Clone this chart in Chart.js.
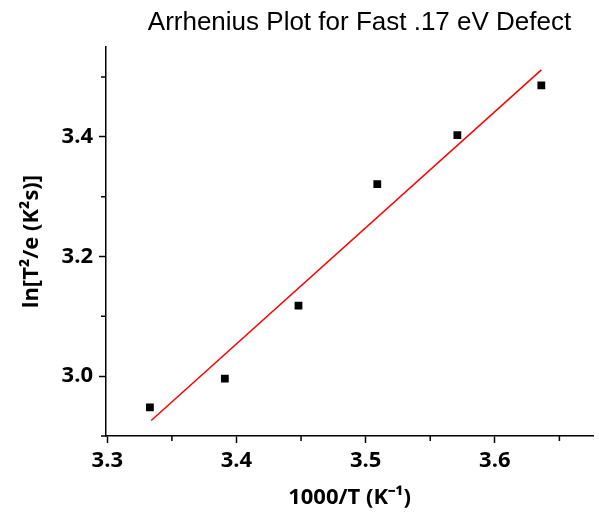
<!DOCTYPE html>
<html>
<head>
<meta charset="utf-8">
<script src="https://cdn.jsdelivr.net/npm/chart.js@4"></script>
<style>
  html, body { margin: 0; padding: 0; background: #fff; }
</style>
</head>
<body>
<canvas id="arrheniusChart" width="599" height="513"></canvas>
<script>
// data points: 1000/T vs ln(T^2/e)
var invTemp = [3.333, 3.391, 3.448, 3.509, 3.571, 3.636];
var lnTe = [2.948, 2.996, 3.118, 3.321, 3.403, 3.486];

// linear fit end points
var fitX = [3.334, 3.636];
var fitY = [2.926, 3.512];

// axis ticks
var xTicks = [3.3, 3.4, 3.5, 3.6];
var xMinorTicks = [3.35, 3.45, 3.55, 3.65];
var yTicks = [3.0, 3.2, 3.4];
var yMinorTicks = [2.9, 3.1, 3.3, 3.5];

var tickFont = { family: "'Open Sans', sans-serif", size: 22, weight: 'bold' };
var axisTitleFont = { family: "'Open Sans', sans-serif", size: 22, weight: 'bold' };

// small outward ticks between the labelled ones
var minorTicks = {
    id: 'minorTicks',
    afterDraw: function(chart) {
        var ctx = chart.ctx;
        var xs = chart.scales.x, ys = chart.scales.y;
        ctx.save();
        ctx.strokeStyle = '#000';
        ctx.lineWidth = 1.5;
        ctx.beginPath();
        xMinorTicks.forEach(function(v) {
            var px = xs.getPixelForValue(v);
            ctx.moveTo(px, xs.top);
            ctx.lineTo(px, xs.top + 5);
        });
        yMinorTicks.forEach(function(v) {
            var py = ys.getPixelForValue(v);
            ctx.moveTo(ys.right, py);
            ctx.lineTo(ys.right - 5, py);
        });
        ctx.stroke();
        ctx.restore();
    }
};

// title sits right of the canvas centre in the original
var titleShift = {
    id: 'titleShift',
    afterLayout: function(chart) {
        if (chart.titleBlock) {
            chart.titleBlock.left += 63;
            chart.titleBlock.right += 63;
        }
    }
};

var ctx = document.getElementById('arrheniusChart').getContext('2d');
var myChart = new Chart(ctx, {
    type: 'scatter',
    data: {
        datasets: [{
            label: 'data',
            data: invTemp.map(function(x, i) { return { x: x, y: lnTe[i] }; }),
            pointStyle: 'rect',
            pointRadius: 5.5,
            pointBorderWidth: 0,
            backgroundColor: '#000',
            borderColor: '#000'
        }, {
            label: 'fit',
            type: 'line',
            data: fitX.map(function(x, i) { return { x: x, y: fitY[i] }; }),
            borderColor: '#ff0000',
            borderWidth: 1.5,
            pointRadius: 0,
            fill: false
        }]
    },
    options: {
        responsive: false,
        animation: false,
        layout: { padding: { left: 0, right: 6, top: 0, bottom: 0 } },
        plugins: {
            legend: { display: false },
            tooltip: { enabled: false },
            title: {
                display: true,
                text: 'Arrhenius Plot for Fast .17 eV Defect',
                color: '#000',
                font: { family: "'Liberation Sans', Arial, sans-serif", size: 26, weight: 'normal' },
                padding: { top: 7, bottom: 9 }
            }
        },
        scales: {
            x: {
                type: 'linear',
                min: 3.299,
                max: 3.676,
                afterBuildTicks: function(scale) {
                    scale.ticks = xTicks.map(function(v) { return { value: v }; });
                },
                afterFit: function(scale) { scale.height = 77; },
                ticks: {
                    color: '#000',
                    font: tickFont,
                    padding: 5,
                    maxRotation: 0,
                    callback: function(v) { return v.toFixed(1); }
                },
                grid: { drawOnChartArea: false, drawTicks: true, tickLength: 7, tickColor: '#000', tickWidth: 1.5 },
                border: { display: true, color: '#000', width: 1.5 },
                title: {
                    display: true,
                    text: '1000/T (K\u207B\u00B9)',
                    color: '#000',
                    font: axisTitleFont,
                    padding: { top: 0, bottom: 2 }
                }
            },
            y: {
                type: 'linear',
                min: 2.9,
                max: 3.55,
                afterBuildTicks: function(scale) {
                    scale.ticks = yTicks.map(function(v) { return { value: v }; });
                },
                afterFit: function(scale) { scale.width = 106; },
                ticks: {
                    color: '#000',
                    font: tickFont,
                    padding: 6,
                    callback: function(v) { return v.toFixed(1); }
                },
                grid: { drawOnChartArea: false, drawTicks: true, tickLength: 7, tickColor: '#000', tickWidth: 1.5 },
                border: { display: true, color: '#000', width: 1.5 },
                title: {
                    display: true,
                    text: 'ln[T\u00B2/e (K\u00B2s)]',
                    color: '#000',
                    font: axisTitleFont,
                    padding: { top: 19, bottom: 0 }
                }
            }
        }
    },
    plugins: [minorTicks, titleShift]
});
</script>
</body>
</html>
